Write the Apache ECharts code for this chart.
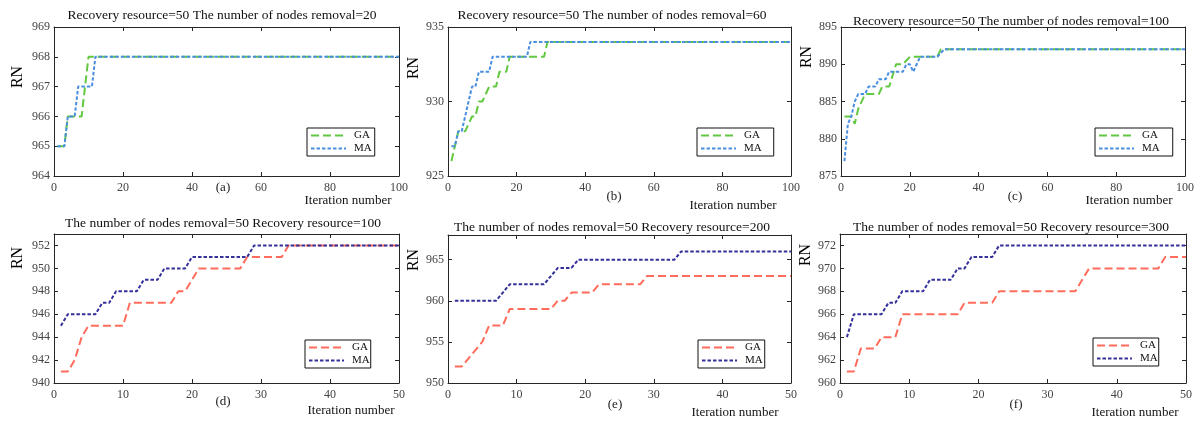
<!DOCTYPE html>
<html>
<head>
<meta charset="utf-8">
<script src="https://cdn.jsdelivr.net/npm/echarts@6/dist/echarts.min.js"></script>
<style>html,body{margin:0;padding:0;background:#fff}#main{width:1197px;height:421px}</style>
</head>
<body>
<div id="main"></div>
<script>
// GA / MA convergence, [iteration, RN] at the corners of each curve
var gaA = [[1,965],[3,965],[4,966],[8,966],[9,967],[10,968],[100,968]];
var maA = [[1,965],[3,965],[4,966],[6,966],[7,967],[11,967],[12,968],[100,968]];
var gaB = [[1,926],[2,927],[3,928],[5,928],[7,929],[8,929],[9,930],[10,930],[12,931],[14,931],[15,932],[17,932],[18,933],[28,933],[29,934],[100,934]];
var maB = [[1,927],[2,927],[3,928],[4,928],[5,929],[7,931],[8,931],[9,932],[12,932],[13,933],[23,933],[24,934],[100,934]];
var gaC = [[1,883],[3,883],[4,882],[5,884],[7,886],[11,886],[12,887],[14,887],[16,890],[18,890],[20,891],[28,891],[29,892],[100,892]];
var maC = [[1,877],[2,882],[3,883],[4,885],[5,886],[7,886],[8,887],[10,887],[11,888],[13,888],[14,889],[18,889],[19,890],[20,890],[21,889],[22,890],[23,891],[28,891],[30,892],[100,892]];
var gaD = [[1,941],[2,941],[3,942],[4,944],[5,945],[10,945],[11,947],[17,947],[18,948],[19,948],[21,950],[27,950],[28,951],[33,951],[34,952],[50,952]];
var maD = [[1,945],[2,946],[6,946],[7,947],[8,947],[9,948],[12,948],[13,949],[15,949],[16,950],[19,950],[20,951],[28,951],[29,952],[50,952]];
var gaE = [[1,952],[2,952],[3,953],[4,954],[5,955],[6,957],[8,957],[9,959],[15,959],[16,960],[17,960],[18,961],[21,961],[22,962],[28,962],[29,963],[50,963]];
var maE = [[1,960],[7,960],[8,961],[9,962],[14,962],[15,963],[16,964],[18,964],[19,965],[33,965],[34,966],[50,966]];
var gaF = [[1,961],[2,961],[3,963],[5,963],[6,964],[8,964],[9,966],[17,966],[18,967],[22,967],[23,968],[34,968],[35,969],[36,970],[46,970],[47,971],[50,971]];
var maF = [[1,964],[2,966],[6,966],[7,967],[8,967],[9,968],[12,968],[13,969],[16,969],[17,970],[18,970],[19,971],[22,971],[23,972],[50,972]];

var titles = [
    'Recovery resource=50 The number of nodes removal=20',
    'Recovery resource=50 The number of nodes removal=60',
    'Recovery resource=50 The number of nodes removal=100',
    'The number of nodes removal=50 Recovery resource=100',
    'The number of nodes removal=50 Recovery resource=200',
    'The number of nodes removal=50 Recovery resource=300'
];
var captions = ['(a)','(b)','(c)','(d)','(e)','(f)'];
var xMax = [100,100,100,50,50,50];
var xStep = [20,20,20,10,10,10];
var yMin = [964,925,875,940,950,960];
var yMax = [969,935,895,953,968,973];
var yStep = [1,5,5,2,5,2];
var gaData = [gaA,gaB,gaC,gaD,gaE,gaF];
var maData = [maA,maB,maC,maD,maE,maF];

// layout of the six panels
var grids = [
    {left:54, top:27, width:345, height:149},
    {left:448, top:27, width:343, height:149},
    {left:841, top:27, width:345, height:149},
    {left:54, top:234, width:345, height:149},
    {left:448, top:235, width:343, height:148},
    {left:840, top:234, width:346, height:149}
];
var titlePos = [[222,8],[612,8],[1011,14],[223,216],[612,220],[1011,220]];
var capPos = [[223,181],[614,190],[1015,190],[223,395],[615,398],[1016,398]];
var iterPos = [[348,194],[733,199],[1129,194],[351,404],[735,406],[1135,406]];
var legPos = [[307,128,3],[697,128,12],[1095,128,13],[305,340,1],[698,340,2],[1093,338,1]];
var rnGap = [28,19,22,28,18,17];
var rnShift = [49,67,89,101,98,107];

var FONT = "'Times New Roman','Liberation Serif',serif";
var topColors = ['#62c842','#4a8ee0'];
var botColors = ['#ff6c5c','#34309a'];

var chart = echarts.init(document.getElementById('main'));

var option = {
    backgroundColor: '#fff',
    animation: false,
    title: [],
    legend: [],
    grid: [],
    xAxis: [],
    yAxis: [],
    series: []
};

function axisBase(gi) {
    return {
        gridIndex: gi,
        type: 'value',
        splitLine: {show: false},
        axisLine: {show: true, onZero: false, lineStyle: {color: '#262626', width: 1}},
        axisTick: {show: true, inside: true, length: 4, lineStyle: {color: '#262626'}},
        axisLabel: {show: false}
    };
}

for (var i = 0; i < 6; i++) {
    var tag = captions[i].replace(/[()]/g, '');
    var cols = i < 3 ? topColors : botColors;
    option.grid.push(grids[i]);

    option.title.push({
        text: titles[i], left: titlePos[i][0], top: titlePos[i][1], textAlign: 'center', padding: 0,
        textStyle: {fontFamily: FONT, fontSize: 13.5, fontWeight: 'normal', color: '#111'}
    });
    option.title.push({
        text: captions[i], left: capPos[i][0], top: capPos[i][1], textAlign: 'center', padding: 0,
        textStyle: {fontFamily: FONT, fontSize: 13, fontWeight: 'normal', color: '#222'}
    });
    option.title.push({
        text: 'Iteration number', left: iterPos[i][0], top: iterPos[i][1], textAlign: 'center', padding: 0,
        textStyle: {fontFamily: FONT, fontSize: 13, fontWeight: 'normal', color: '#111'}
    });

    var xb = axisBase(i);
    xb.position = 'bottom';
    xb.min = 0; xb.max = xMax[i]; xb.interval = xStep[i];
    xb.axisLabel = {show: true, margin: 6, fontFamily: FONT, fontSize: 12, color: '#444'};
    var xt = axisBase(i);
    xt.position = 'top';
    xt.min = 0; xt.max = xMax[i]; xt.interval = xStep[i];
    option.xAxis.push(xb, xt);

    var yl = axisBase(i);
    yl.position = 'left';
    yl.min = yMin[i]; yl.max = yMax[i]; yl.interval = yStep[i];
    yl.axisLabel = {show: true, margin: 4, fontFamily: FONT, fontSize: 12, color: '#444',
        showMaxLabel: (yMax[i] - yMin[i]) % yStep[i] === 0};
    yl.name = 'RN';
    yl.nameLocation = 'middle';
    yl.nameRotate = 90;
    yl.nameGap = rnGap[i];
    yl.nameTextStyle = {fontFamily: FONT, fontSize: 16, color: '#000', padding: [0, 0, 0, rnShift[i]]};
    var yr = axisBase(i);
    yr.position = 'right';
    yr.min = yMin[i]; yr.max = yMax[i]; yr.interval = yStep[i];
    option.yAxis.push(yl, yr);

    option.series.push({
        name: 'GA ' + tag, type: 'line', xAxisIndex: 2 * i, yAxisIndex: 2 * i,
        symbol: 'none', z: 2, data: gaData[i],
        lineStyle: {color: cols[0], width: 2, type: [8, 4]},
        itemStyle: {color: cols[0]}
    });
    option.series.push({
        name: 'MA ' + tag, type: 'line', xAxisIndex: 2 * i, yAxisIndex: 2 * i,
        symbol: 'none', z: 3, data: maData[i],
        lineStyle: {color: cols[1], width: 2, type: [3.5, 2]},
        itemStyle: {color: cols[1]}
    });

    option.legend.push({
        data: ['GA ' + tag, 'MA ' + tag],
        left: legPos[i][0], top: legPos[i][1],
        orient: 'vertical',
        itemWidth: 35, itemHeight: 12, itemGap: 2,
        padding: [2, legPos[i][2], 2, 3],
        borderColor: '#111', borderWidth: 1, borderRadius: 0,
        backgroundColor: '#fff',
        selectedMode: false,
        itemStyle: {opacity: 0},
        formatter: function (n) { return n.split(' ')[0]; },
        textStyle: {fontFamily: FONT, fontSize: 11, color: '#111', padding: [0, 0, 0, 3]}
    });
}

chart.setOption(option);
</script>
</body>
</html>
